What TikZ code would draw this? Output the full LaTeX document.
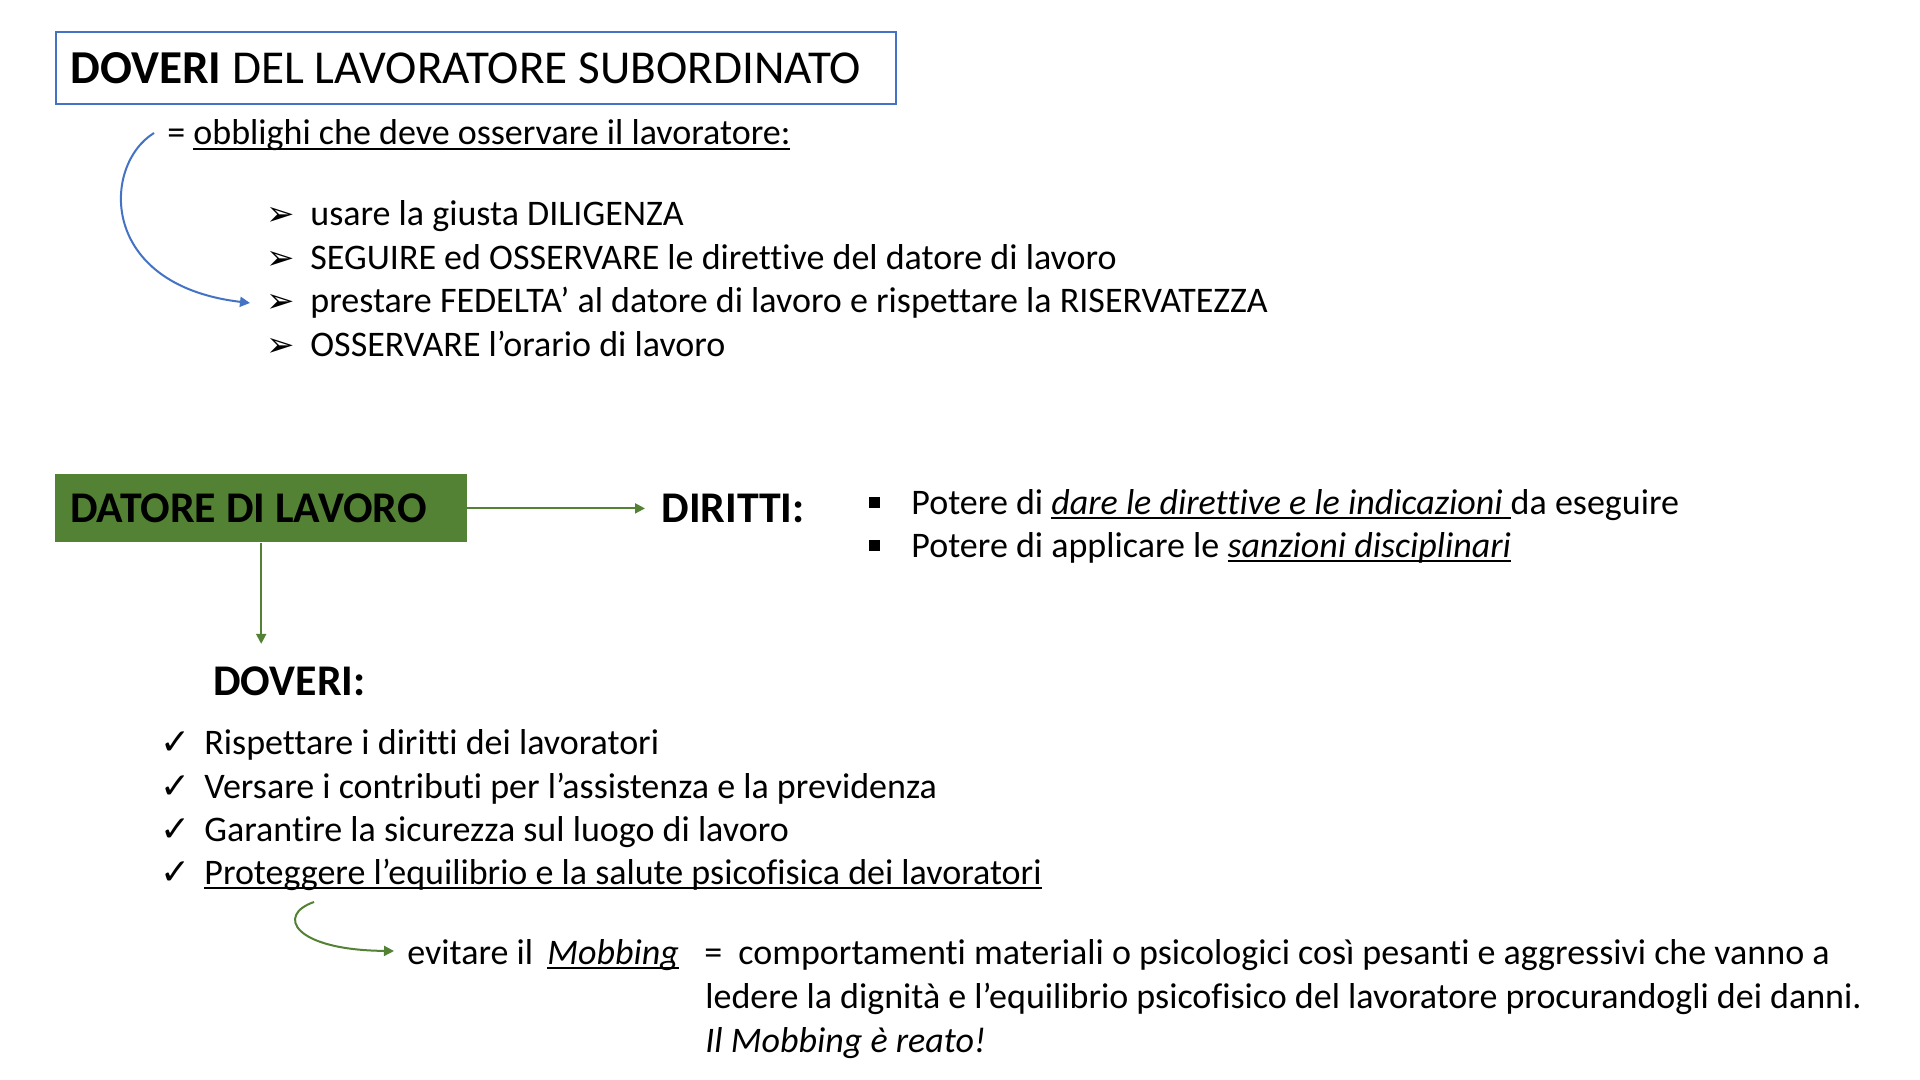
\documentclass[tikz,border=0pt]{standalone}
\usepackage{fontspec}
\setmainfont[Ligatures=NoCommon]{Carlito}
\newfontfamily\symfont{DejaVu Sans}
\usetikzlibrary{arrows.meta}
\definecolor{ttlblue}{HTML}{4472C4}
\definecolor{dgreen}{HTML}{548235}
\newcommand\ulx[1]{\setbox0\hbox{#1}\rlap{\rule[-0.15em]{\wd0}{0.055em}}\box0}
\newcommand\bodyfont{\fontsize{18pt}{21pt}\selectfont}
\newcommand\titlefont{\fontsize{23.6pt}{28pt}\selectfont}
\newcommand\labfont{\fontsize{21.9pt}{26pt}\selectfont\bfseries}
\begin{document}
\begin{tikzpicture}[x=0.5pt,y=-0.5pt,
  txt/.style={anchor=base west,inner sep=0pt,font=\bodyfont},
  arrbul/.style={anchor=base west,inner sep=0pt,font=\symfont\fontsize{17pt}{19pt}\selectfont},
  tickmk/.style={anchor=base west,inner sep=0pt,font=\symfont\fontsize{18pt}{20pt}\selectfont},
  sqbullet/.style={fill=black,minimum size=5.5pt,inner sep=0pt},
  garrow/.style={draw=dgreen,line width=1pt,-{Triangle[length=5pt,width=5pt]}},
  barrow/.style={draw=ttlblue,line width=1pt,-{Triangle[length=5pt,width=5pt]}}]
\fill[white] (0,0) rectangle (1920,1080);
\useasboundingbox (0,0) rectangle (1920,1080);
% title
\node[draw=ttlblue,line width=0.8pt,inner sep=0pt,minimum width=420pt,minimum height=36pt,anchor=north west] (tbox) at (55,31) {};
\node[txt,font=\titlefont] (title) at (70,84) {\textbf{DOVERI} DEL LAVORATORE SUBORDINATO};
\node[txt] (obbl) at (167,145) {= \ulx{obblighi che deve osservare il lavoratore:}};
% worker duties
\node[arrbul] (b1) at (266,226) {➢};
\node[arrbul] (b2) at (266,270) {➢};
\node[arrbul] (b3) at (266,313) {➢};
\node[arrbul] (b4) at (266,357) {➢};
\node[txt] (t1) at (310,226) {usare la giusta DILIGENZA};
\node[txt] (t2) at (310,270) {SEGUIRE ed OSSERVARE le direttive del datore di lavoro};
\node[txt] (t3) at (310,313) {prestare FEDELTA’ al datore di lavoro e rispettare la RISERVATEZZA};
\node[txt] (t4) at (310,357) {OSSERVARE l’orario di lavoro};
\coordinate (cs) at (154,133);
\coordinate (ce) at (250,303);
\draw[barrow] (cs) .. controls (102,165) and (98,285) .. (ce);
% employer
\node[fill=dgreen,inner sep=0pt,minimum width=205.8pt,minimum height=34pt,anchor=north west] (datore) at (55,474) {};
\node[txt,font=\labfont] (datoretxt) at (70,522) {DATORE DI LAVORO};
\node[txt,font=\labfont] (diritti) at (661,522) {DIRITTI:};
\draw[garrow,shorten >=8pt] (datore.east) -- (datore.east -| diritti.west);
\node[sqbullet] (s1) at (874,502) {};
\node[sqbullet] (s2) at (874,545) {};
\node[txt] (p1) at (911,514) {Potere di \ulx{\textit{dare le direttive e le indicazioni }}da eseguire};
\node[txt] (p2) at (911,557) {Potere di applicare le \ulx{\textit{sanzioni disciplinari}}};
\node[txt,font=\labfont] (doveri) at (213,695) {DOVERI:};
\draw[garrow,shorten >=11pt] (datore.south) -- (datore.south |- doveri.north);
\node[tickmk] (c1) at (160,754) {✓};
\node[tickmk] (c2) at (160,798) {✓};
\node[tickmk] (c3) at (160,841) {✓};
\node[tickmk] (c4) at (160,884) {✓};
\node[txt] (r1) at (204,754) {Rispettare i diritti dei lavoratori};
\node[txt] (r2) at (204,798) {Versare i contributi per l’assistenza e la previdenza};
\node[txt] (r3) at (204,841) {Garantire la sicurezza sul luogo di lavoro};
\node[txt] (r4) at (204,884) {\ulx{Proteggere l’equilibrio e la salute psicofisica dei lavoratori}};
\coordinate (gs) at (314,902);
\coordinate (ge) at (394,951);
\draw[garrow] (gs) .. controls (276,915) and (293,950) .. (ge);
\node[txt] (evit) at (407,964) {evitare il};
\node[txt] (mob) at (547,964) {\ulx{\textit{Mobbing}}};
\node[txt] (eq) at (704,964) {=};
\node[txt] (d1) at (738,964) {comportamenti materiali o psicologici così pesanti e aggressivi che vanno a};
\node[txt] (d2) at (705,1008) {ledere la dignità e l’equilibrio psicofisico del lavoratore procurandogli dei danni.};
\node[txt,font=\bodyfont\itshape] (d3) at (705,1052) {Il Mobbing è reato!};
\end{tikzpicture}
\end{document}
